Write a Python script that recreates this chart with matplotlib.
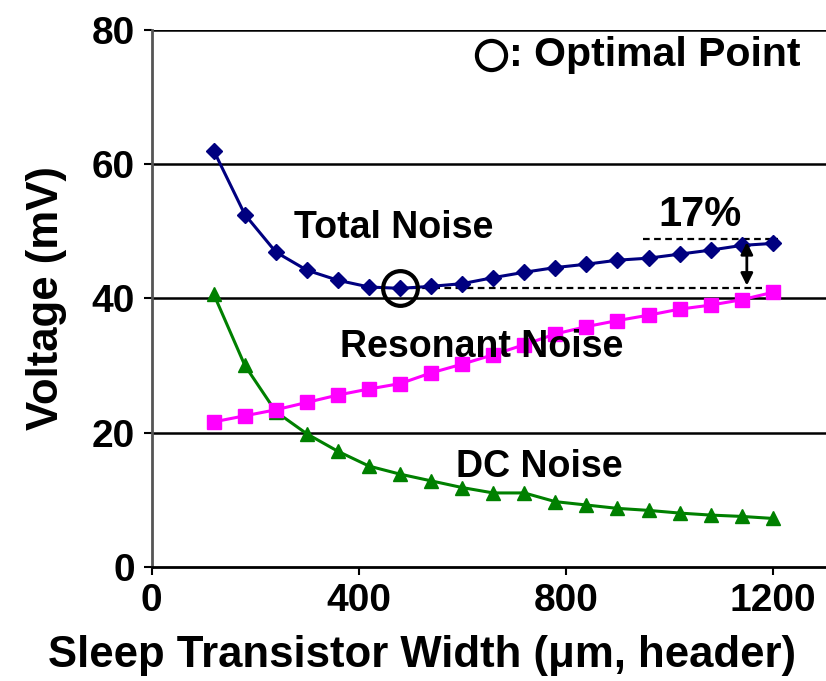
import numpy as np
import matplotlib as mpl
mpl.use("Agg")
import matplotlib.pyplot as plt

plt.rcParams['font.family'] = ['Liberation Sans', 'DejaVu Sans']
plt.rcParams['font.weight'] = 'bold'

# sleep transistor width (um)
width = [120, 180, 240, 300, 360, 420, 480, 540, 600, 660,
         720, 780, 840, 900, 960, 1020, 1080, 1140, 1200]

total_noise = [62.0, 52.5, 46.9, 44.2, 42.7, 41.7, 41.5, 41.8, 42.2, 43.1,
               43.9, 44.6, 45.1, 45.7, 46.0, 46.6, 47.2, 47.9, 48.2]
resonant_noise = [21.6, 22.5, 23.4, 24.5, 25.6, 26.5, 27.3, 28.9, 30.2, 31.6,
                  33.1, 34.7, 35.8, 36.7, 37.5, 38.4, 39.0, 39.8, 40.9]
dc_noise = [40.6, 30.0, 23.1, 19.8, 17.2, 15.0, 13.8, 12.8, 11.8, 11.0,
            11.0, 9.7, 9.2, 8.7, 8.4, 8.0, 7.7, 7.5, 7.2]

x_ticks = [0, 400, 800, 1200]
y_ticks = [0, 20, 40, 60, 80]

fig = plt.figure(figsize=(8.26, 6.81), dpi=100)
ax = fig.add_axes([0.1837, 0.1678, 0.8163, 0.788])

ax.set_xlim(0, 1303)
ax.set_ylim(0, 80)

for yv in y_ticks[1:]:
    ax.axhline(yv, color='black', lw=1.8, zorder=1)

ax.plot(width, dc_noise, color='#008000', lw=2.2, marker='^', ms=10, zorder=3)
ax.plot(width, resonant_noise, color='#FF00FF', lw=2.2, marker='s', ms=9.5, zorder=3)
ax.plot(width, total_noise, color='#000080', lw=2.2, marker='D', ms=8, zorder=4)

# optimal point and 17% annotation
i_opt = int(np.argmin(total_noise))
low = total_noise[i_opt]
high = total_noise[-1]
ax.plot(width[i_opt], low, marker='o', ms=25, mfc='none',
        mec='black', mew=3, zorder=5)
ax.hlines(low, width[i_opt], 1180, colors='black', lw=1.6,
          linestyles=(0, (3, 2)), zorder=2)
ax.hlines(high + 0.6, 950, 1210, colors='black', lw=1.6,
          linestyles=(0, (3, 2)), zorder=2)
ax.annotate('', xy=(1150, low), xytext=(1150, high + 0.6),
            arrowprops=dict(arrowstyle='<|-|>', color='black', lw=2,
                            mutation_scale=18), zorder=6)

ax.text(1060, 52.5, '17%', fontsize=30, ha='center', va='center')
ax.text(467, 50.5, 'Total Noise', fontsize=27, ha='center', va='center')
ax.text(637, 32.8, 'Resonant Noise', fontsize=27, ha='center', va='center')
ax.text(749, 14.9, 'DC Noise', fontsize=27, ha='center', va='center')

ax.plot(656, 76.3, marker='o', ms=21, mfc='none', mec='black', mew=3,
        clip_on=False)
ax.text(690, 76.3, ': Optimal Point', fontsize=29.5, ha='left', va='center')

ax.set_xticks(x_ticks)
ax.set_yticks(y_ticks)
ax.tick_params(axis='both', labelsize=28, length=6, width=1.5, direction='out',
               pad=6)
for lab in ax.get_xticklabels() + ax.get_yticklabels():
    lab.set_fontweight('bold')

ax.set_xlabel('Sleep Transistor Width (μm, header)', fontsize=31.5,
              fontweight='bold')
ax.xaxis.set_label_coords(0.401, -0.128)
ax.set_ylabel('Voltage (mV)', fontsize=31.5, fontweight='bold', labelpad=18)

ax.spines['top'].set_visible(False)
ax.spines['right'].set_visible(False)
ax.spines['left'].set_color('#555555')
ax.spines['left'].set_linewidth(2)
ax.spines['bottom'].set_color('black')
ax.spines['bottom'].set_linewidth(2)

fig.savefig('out.png', dpi=100)
